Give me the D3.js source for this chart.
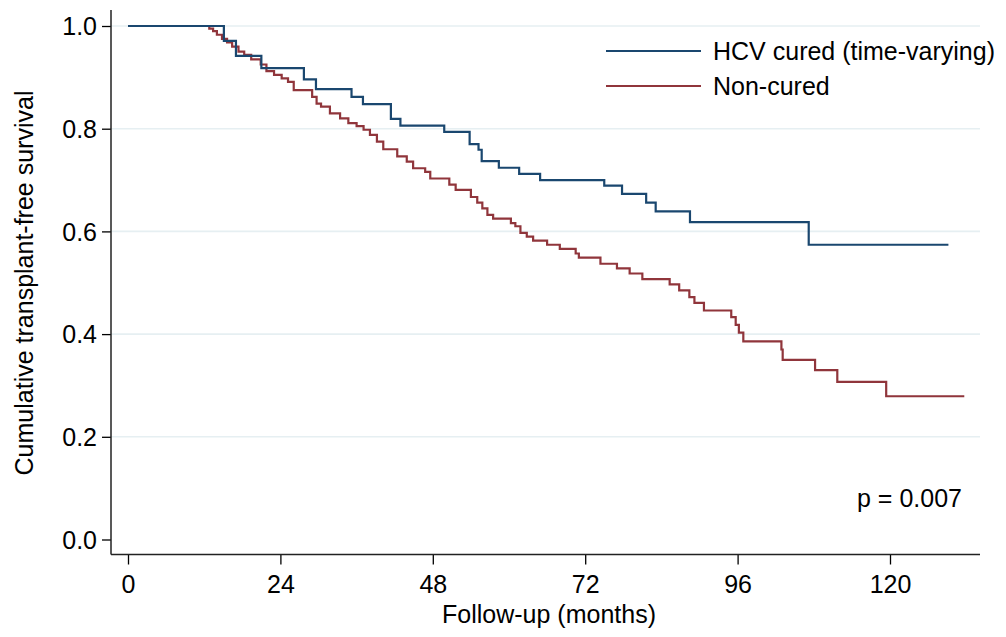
<!DOCTYPE html>
<html>
<head>
<meta charset="utf-8">
<script src="https://cdn.jsdelivr.net/npm/d3@7"></script>
<style>
  html, body { margin: 0; padding: 0; background: #ffffff; }
  svg { display: block; }
  text { font-family: "Liberation Sans", Arial, sans-serif; fill: #000; }
</style>
</head>
<body>
<svg id="chart" width="1006" height="637"></svg>
<script>
// ---- Data ----
const xTicks = [0, 24, 48, 72, 96, 120];
const yTicks = [0.0, 0.2, 0.4, 0.6, 0.8, 1.0];

// HCV cured (time-varying): [month, survival after step]
const curedTimes = [0, 15.1, 17.0, 21.0, 27.7, 29.6, 35.2, 37.0, 41.4, 42.9, 49.8, 53.8, 55.2, 55.7, 58.4, 61.6, 64.9, 75.0, 77.8, 81.6, 83.1, 88.5, 107.2, 129.2];
const curedSurv  = [1.0, 0.971, 0.942, 0.918, 0.896, 0.877, 0.862, 0.848, 0.819, 0.806, 0.794, 0.770, 0.759, 0.737, 0.724, 0.712, 0.700, 0.689, 0.673, 0.656, 0.639, 0.618, 0.574, 0.574];

// Non-cured
const nonTimes = [0, 12.8, 13.4, 14.0, 14.8, 15.6, 16.4, 17.4, 18.3, 19.4, 20.9, 21.8, 23.0, 24.2, 25.2, 26.1,
  29.0, 29.7, 30.4, 31.8, 33.4, 34.7, 36.0, 37.1, 38.1, 39.2, 40.2, 42.4, 43.9, 44.9, 46.8, 47.6,
  50.6, 51.6, 54.0, 55.0, 55.8, 56.6, 57.5, 60.3, 61.0, 61.8, 62.8, 63.8, 66.0, 68.0, 70.5, 71.0,
  74.4, 77.0, 79.0, 81.0, 85.3, 86.8, 88.4, 89.2, 90.7, 95.0, 95.7, 96.2, 96.9, 102.9, 103.1,
  108.2, 111.7, 119.4, 131.7];
const nonSurv = [1.0, 0.995, 0.990, 0.983, 0.975, 0.968, 0.960, 0.950, 0.944, 0.935, 0.925, 0.912, 0.905, 0.898, 0.891, 0.875,
  0.862, 0.849, 0.843, 0.830, 0.820, 0.811, 0.805, 0.798, 0.788, 0.775, 0.760, 0.746, 0.736, 0.723, 0.716, 0.703,
  0.691, 0.681, 0.667, 0.656, 0.645, 0.632, 0.625, 0.616, 0.610, 0.597, 0.590, 0.582, 0.574, 0.566, 0.557, 0.549,
  0.537, 0.528, 0.518, 0.507, 0.497, 0.485, 0.472, 0.461, 0.446, 0.433, 0.418, 0.403, 0.386, 0.370, 0.350,
  0.330, 0.307, 0.279, 0.279];

const seriesNames = ["HCV cured (time-varying)", "Non-cured"];
const seriesColors = ["#1a476f", "#90353b"];
const pLabel = "p = 0.007";
const xTitle = "Follow-up (months)";
const yTitle = "Cumulative transplant-free survival";

// ---- Layout ----
const svg = d3.select("#chart");
const axisX = 111, axisY = 554.5, rightEdge = 980, topEdge = 10;

const x = d3.scaleLinear().domain([0, 120]).range([128, 890]);
const y = d3.scaleLinear().domain([0, 1]).range([539.5, 26]);

// Gridlines (not at 0)
svg.append("g").selectAll("line")
  .data(yTicks.filter(d => d > 0))
  .join("line")
  .attr("x1", axisX).attr("x2", rightEdge)
  .attr("y1", d => y(d)).attr("y2", d => y(d))
  .attr("stroke", "#e6eff2").attr("stroke-width", 1.6);

// Y axis
const yAxis = d3.axisLeft(y).tickValues(yTicks).tickFormat(d3.format(".1f")).tickSize(9).tickPadding(5);
const gy = svg.append("g").attr("transform", `translate(${axisX},0)`).call(yAxis);
gy.select(".domain").remove();
gy.selectAll(".tick line").attr("stroke", "#000").attr("stroke-width", 1.3);
gy.selectAll(".tick text").attr("font-size", 25).attr("font-family", "Liberation Sans, Arial, sans-serif").attr("fill", "#000").attr("dy", "0.35em");
svg.append("line").attr("x1", axisX).attr("x2", axisX).attr("y1", topEdge).attr("y2", axisY)
  .attr("stroke", "#222").attr("stroke-width", 1.5);

// X axis
const xAxis = d3.axisBottom(x).tickValues(xTicks).tickFormat(d3.format("d")).tickSize(10).tickPadding(11);
const gx = svg.append("g").attr("transform", `translate(0,${axisY})`).call(xAxis);
gx.select(".domain").remove();
gx.selectAll(".tick line").attr("stroke", "#000").attr("stroke-width", 1.3);
gx.selectAll(".tick text").attr("font-size", 25).attr("font-family", "Liberation Sans, Arial, sans-serif").attr("fill", "#000");
svg.append("line").attr("x1", axisX).attr("x2", rightEdge).attr("y1", axisY).attr("y2", axisY)
  .attr("stroke", "#222").attr("stroke-width", 1.5);

// Curves
const line = d3.line().x(d => x(d[0])).y(d => y(d[1])).curve(d3.curveStepAfter);
const curedData = d3.zip(curedTimes, curedSurv);
const nonData = d3.zip(nonTimes, nonSurv);

svg.append("path").datum(nonData).attr("d", line)
  .attr("fill", "none").attr("stroke", seriesColors[1]).attr("stroke-width", 2.2);
svg.append("path").datum(curedData).attr("d", line)
  .attr("fill", "none").attr("stroke", seriesColors[0]).attr("stroke-width", 2.2);

// Legend
const legendRows = [51, 86];
const lg = svg.append("g");
seriesNames.forEach((name, i) => {
  lg.append("line").attr("x1", 606).attr("x2", 701).attr("y1", legendRows[i]).attr("y2", legendRows[i])
    .attr("stroke", seriesColors[i]).attr("stroke-width", 2);
  lg.append("text").attr("x", 713).attr("y", legendRows[i] + 9).attr("font-size", 25).text(name);
});

// p-value
svg.append("text").attr("x", 857).attr("y", 506.5).attr("font-size", 25).text(pLabel);

// Axis titles
svg.append("text").attr("x", 549).attr("y", 623).attr("text-anchor", "middle").attr("font-size", 25).text(xTitle);
svg.append("text").attr("transform", "translate(33,283) rotate(-90)").attr("text-anchor", "middle")
  .attr("font-size", 25).text(yTitle);
</script>
</body>
</html>
